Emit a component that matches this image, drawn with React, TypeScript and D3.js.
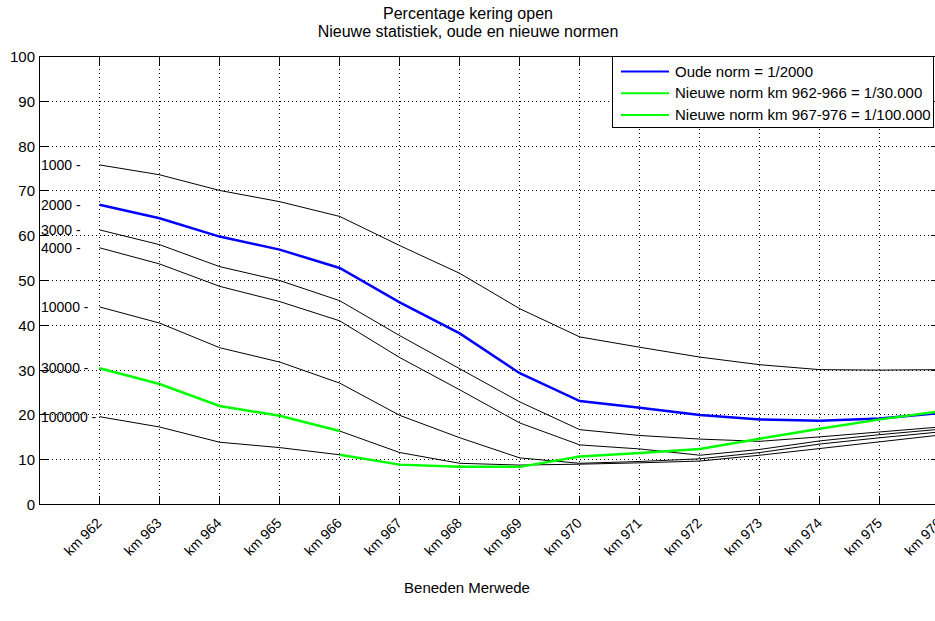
import React from "react";
import * as d3 from "d3";

const kms = [962, 963, 964, 965, 966, 967, 968, 969, 970, 971, 972, 973, 974, 975, 976];
const kmLabels = ["km 962", "km 963", "km 964", "km 965", "km 966", "km 967", "km 968", "km 969", "km 970", "km 971", "km 972", "km 973", "km 974", "km 975", "km 976"];
const yTicks = [0, 10, 20, 30, 40, 50, 60, 70, 80, 90, 100];

const r1000 = [75.8, 73.6, 70.1, 67.6, 64.3, 57.8, 51.6, 43.7, 37.4, 35.1, 32.9, 31.2, 30.1, 30.0, 30.1];
const r2000 = [66.9, 63.9, 59.8, 56.9, 52.8, 45.1, 38.2, 29.3, 23.1, 21.6, 20.0, 19.0, 18.7, 19.2, 20.4];
const r3000 = [61.3, 58.0, 53.1, 50.0, 45.5, 37.7, 30.3, 22.9, 16.7, 15.4, 14.6, 14.1, 15.1, 16.2, 17.3];
const r4000 = [57.3, 53.7, 48.7, 45.3, 41.0, 32.8, 25.6, 18.2, 13.3, 12.4, 11.0, 12.3, 14.2, 15.6, 16.8];
const r10000 = [44.1, 40.5, 35.0, 31.8, 27.1, 19.9, 14.9, 10.4, 9.2, 9.6, 10.2, 11.6, 13.5, 14.9, 16.2];
const r30000 = [30.4, 26.9, 22.0, 19.8, 16.4, 11.6, 9.2, 8.8, 9.0, 9.3, 9.7, 11.0, 12.5, 14.0, 15.5];
const r100000 = [19.6, 17.3, 13.9, 12.7, 11.1, 8.9, 8.4, 8.4, 10.7, 11.5, 12.4, 14.7, 16.9, 19.0, 20.8];

const blackSeries = [
  { label: "1000 -", values: r1000 },
  { label: "2000 -", values: r2000 },
  { label: "3000 -", values: r3000 },
  { label: "4000 -", values: r4000 },
  { label: "10000 -", values: r10000 },
  { label: "30000 -", values: r30000 },
  { label: "100000 -", values: r100000 },
];

const legendItems = [
  { text: "Oude norm = 1/2000", color: "#0000ff" },
  { text: "Nieuwe norm km 962-966 = 1/30.000", color: "#00ff00" },
  { text: "Nieuwe norm km 967-976 = 1/100.000", color: "#00ff00" },
];

const titleLines = ["Percentage kering open", "Nieuwe statistiek, oude en nieuwe normen"];
const xTitle = "Beneden Merwede";

const W = 935;
const H = 621;
const L = 39.5;
const R = 940;
const T = 56.5;
const B = 504.5;
const FONT = "'Liberation Sans', Arial, Helvetica, sans-serif";

export default function App() {
  const x = d3.scaleLinear().domain([961, 976]).range([L, R]);
  const y = d3.scaleLinear().domain([0, 100]).range([B, T]);
  const line = d3
    .line<[number, number]>()
    .x((d) => x(d[0]))
    .y((d) => y(d[1]));
  const pts = (vals: number[], from = 0, to = kms.length - 1) =>
    kms.slice(from, to + 1).map((k, i) => [k, vals[from + i]] as [number, number]);

  const tickLen = 9;

  return (
    <div style={{ position: "fixed", left: 0, top: 0, width: W, height: H, background: "#fff" }}>
      <svg width={W} height={H} style={{ display: "block", fontFamily: FONT }}>
        <rect x={0} y={0} width={W} height={H} fill="#fff" />
        {/* grid */}
        {kms.map((k) => (
          <line key={"gx" + k} x1={x(k)} x2={x(k)} y1={T} y2={B} stroke="#000" strokeWidth={1} strokeDasharray="1,3" shapeRendering="crispEdges" />
        ))}
        {yTicks.slice(1, -1).map((v) => (
          <line key={"gy" + v} x1={L} x2={R} y1={y(v)} y2={y(v)} stroke="#000" strokeWidth={1} strokeDasharray="1,3" shapeRendering="crispEdges" />
        ))}
        {/* ticks */}
        {kms.map((k) => (
          <g key={"tx" + k}>
            <line x1={x(k)} x2={x(k)} y1={B} y2={B - tickLen} stroke="#000" shapeRendering="crispEdges" />
            <line x1={x(k)} x2={x(k)} y1={T} y2={T + tickLen} stroke="#000" shapeRendering="crispEdges" />
          </g>
        ))}
        {yTicks.map((v) => (
          <g key={"ty" + v}>
            <line x1={L} x2={L + tickLen} y1={y(v)} y2={y(v)} stroke="#000" shapeRendering="crispEdges" />
            <line x1={R} x2={R - tickLen} y1={y(v)} y2={y(v)} stroke="#000" shapeRendering="crispEdges" />
          </g>
        ))}
        {/* axes box */}
        <rect x={L} y={T} width={R - L} height={B - T} fill="none" stroke="#000" strokeWidth={1} shapeRendering="crispEdges" />

        {/* series */}
        {blackSeries.map((s) => (
          <path key={s.label} d={line(pts(s.values)) || ""} fill="none" stroke="#000" strokeWidth={1} />
        ))}
        <path d={line(pts(r2000)) || ""} fill="none" stroke="#0000ff" strokeWidth={2.5} />
        <path d={line(pts(r30000, 0, 4)) || ""} fill="none" stroke="#00ff00" strokeWidth={2.5} />
        <path d={line(pts(r100000, 4, 14)) || ""} fill="none" stroke="#00ff00" strokeWidth={2.5} />

        {/* inline labels */}
        {blackSeries.map((s) => (
          <text key={"lab" + s.label} x={L + 1.5} y={y(s.values[0])} dy="0.35em" fontSize={14} fill="#000">
            {s.label}
          </text>
        ))}

        {/* y tick labels */}
        {yTicks.map((v) => (
          <text key={"yl" + v} x={35} y={y(v)} dy="0.36em" textAnchor="end" fontSize={15} fill="#000">
            {v}
          </text>
        ))}
        {/* x tick labels */}
        {kms.map((k, i) => (
          <text
            key={"xl" + k}
            transform={`translate(${x(k) + 3},${524}) rotate(-45)`}
            textAnchor="end"
            fontSize={14}
            fill="#000"
          >
            {kmLabels[i]}
          </text>
        ))}

        {/* titles */}
        <text x={468} y={19} textAnchor="middle" fontSize={16} fill="#000">{titleLines[0]}</text>
        <text x={468} y={37} textAnchor="middle" fontSize={16} fill="#000">{titleLines[1]}</text>
        <text x={467} y={593} textAnchor="middle" fontSize={15} fill="#000">{xTitle}</text>

        {/* legend */}
        <g>
          <rect x={612} y={56.5} width={321.5} height={71} fill="#fff" stroke="#000" strokeWidth={1} shapeRendering="crispEdges" />
          {legendItems.map((it, i) => {
            const cy = 71.5 + i * 21.7;
            return (
              <g key={it.text}>
                <line x1={621} x2={669} y1={cy} y2={cy} stroke={it.color} strokeWidth={2} />
                <text x={675} y={cy} dy="0.35em" fontSize={15} fill="#000">{it.text}</text>
              </g>
            );
          })}
        </g>
      </svg>
    </div>
  );
}
